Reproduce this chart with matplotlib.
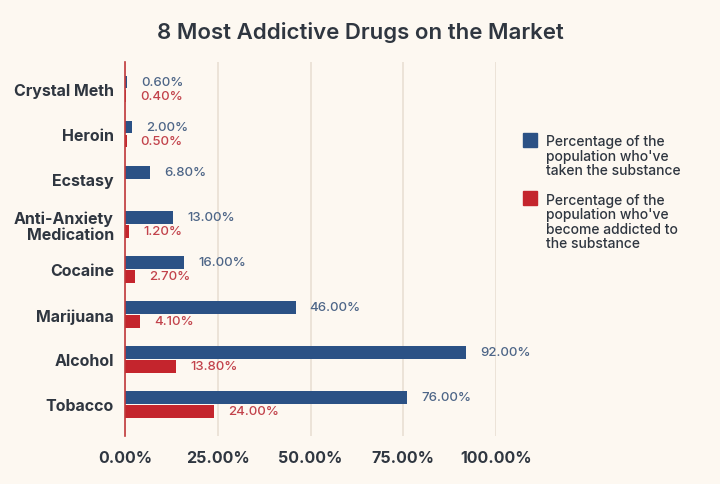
import matplotlib
matplotlib.use("Agg")
import matplotlib.pyplot as plt
from matplotlib.patches import Rectangle

categories = ["Crystal Meth", "Heroin", "Ecstasy", "Anti-Anxiety\nMedication",
              "Cocaine", "Marijuana", "Alcohol", "Tobacco"]
taken = [0.6, 2.0, 6.8, 13.0, 16.0, 46.0, 92.0, 76.0]
addicted = [0.4, 0.5, None, 1.2, 2.7, 4.1, 13.8, 24.0]
xticks = [0, 25, 50, 75, 100]
xtick_labels = ["0.00%", "25.00%", "50.00%", "75.00%", "100.00%"]
legend_labels = ["Percentage of the\npopulation who've\ntaken the substance",
                 "Percentage of the\npopulation who've\nbecome addicted to\nthe substance"]
title = "8 Most Addictive Drugs on the Market"

BG = "#fdf8f1"
BLUE = "#2b5185"
RED = "#c4252d"
BLUE_TXT = "#4d6587"
RED_TXT = "#c2424b"
DARK = "#2f3640"

plt.rcParams['font.family'] = ['Inter', 'DejaVu Sans']

fig = plt.figure(figsize=(7.2, 4.85), dpi=100, facecolor=BG)
ax = fig.add_axes([0.1736, 0.099, 0.689 - 0.1736, 0.771])
ax.set_facecolor(BG)

y = list(range(len(categories)))
h = 0.28
off = 0.155
for i in y:
    ax.barh(i - off, taken[i], height=h, color=BLUE, zorder=3)
    ax.annotate(f"{taken[i]:.2f}%", (taken[i], i - off), xytext=(10, 0),
                textcoords="offset points", va="center", ha="left",
                fontsize=9.5, color=BLUE_TXT, fontweight="medium")
    if addicted[i] is not None:
        ax.barh(i + off, addicted[i], height=h, color=RED, zorder=3)
        ax.annotate(f"{addicted[i]:.2f}%", (addicted[i], i + off), xytext=(10, 0),
                    textcoords="offset points", va="center", ha="left",
                    fontsize=9.5, color=RED_TXT, fontweight="medium")

ax.set_xlim(0, 100)
ax.set_ylim(7.7, -0.6)
ax.set_yticks(y)
ax.set_yticklabels(categories, fontsize=11.5, fontweight="bold", color=DARK,
                   linespacing=1.05)
ax.set_xticks(xticks)
ax.set_xticklabels(xtick_labels, fontsize=11.5, fontweight="bold", color=DARK)
ax.tick_params(axis="both", length=0, pad=8)
ax.tick_params(axis="x", pad=10)
ax.grid(axis="x", color="#e9dfd3", linewidth=1.2, zorder=0)
for s in ["top", "right", "bottom"]:
    ax.spines[s].set_visible(False)
ax.spines["left"].set_color("#c0393b")
ax.spines["left"].set_linewidth(1.2)
ax.spines["left"].set_zorder(4)

fig.text(0.5, 0.932, title, ha="center", va="center", fontsize=16,
         fontweight="semibold", color=DARK)

# legend
for (ly, col, lab) in [(0.709, BLUE, legend_labels[0]), (0.589, RED, legend_labels[1])]:
    fig.patches.append(Rectangle((0.727, ly - 0.014), 0.0195, 0.029,
                                 transform=fig.transFigure, color=col))
    fig.text(0.758, ly + 0.012, lab, ha="left", va="top", fontsize=10,
             fontweight="medium", color=DARK, linespacing=1.05)

fig.savefig("out.png", dpi=100, facecolor=BG)
